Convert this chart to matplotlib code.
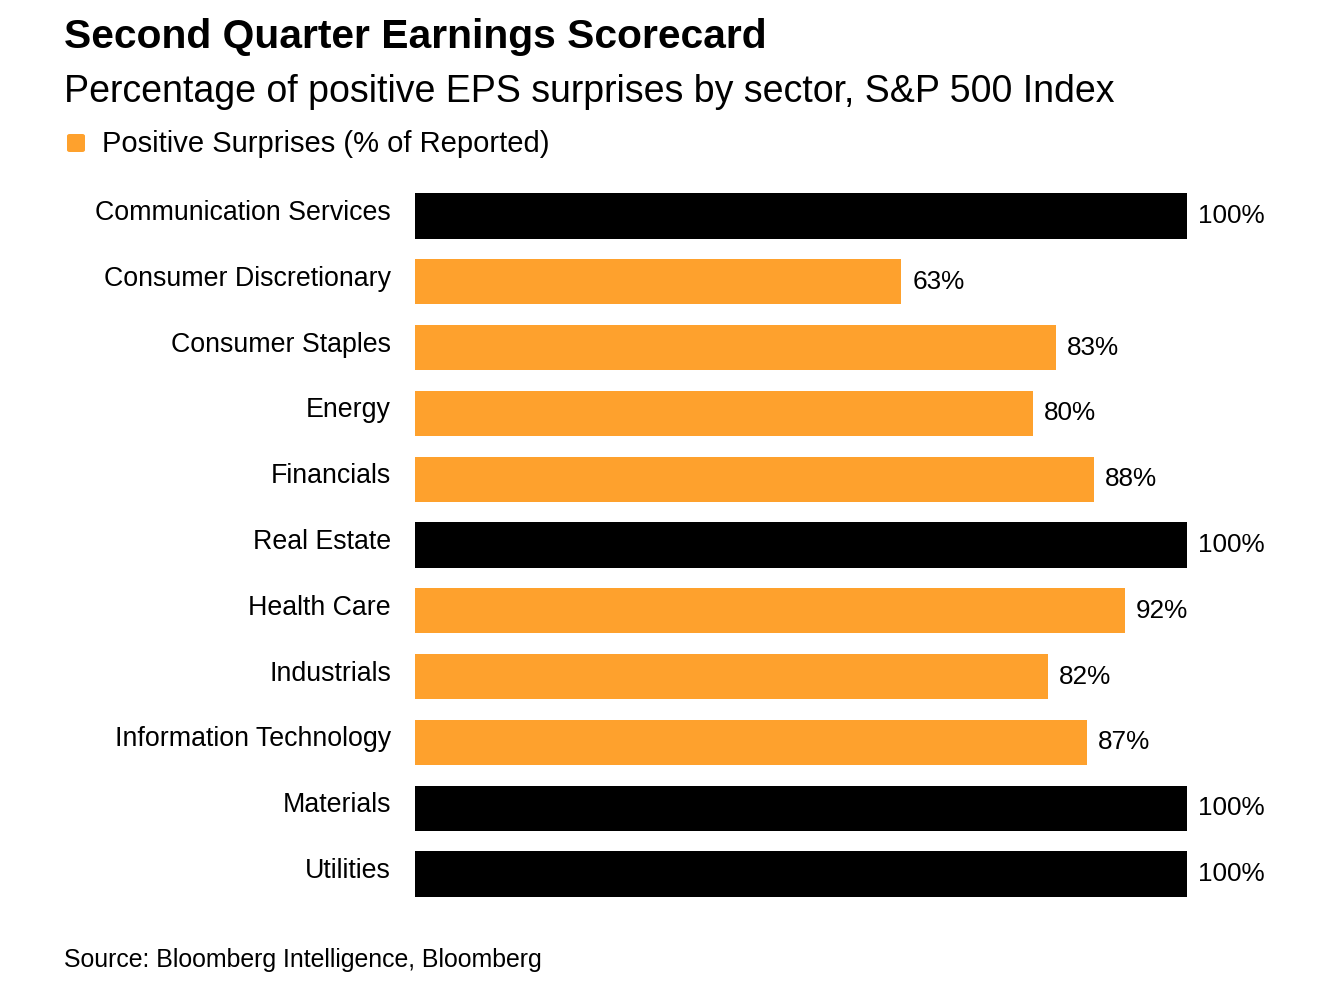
import matplotlib
matplotlib.use("Agg")
import matplotlib.pyplot as plt
from matplotlib.patches import FancyBboxPatch

categories = ["Communication Services", "Consumer Discretionary", "Consumer Staples",
              "Energy", "Financials", "Real Estate", "Health Care", "Industrials",
              "Information Technology", "Materials", "Utilities"]
values = [100, 63, 83, 80, 88, 100, 92, 82, 87, 100, 100]
value_labels = ["100%", "63%", "83%", "80%", "88%", "100%", "92%", "82%", "87%", "100%", "100%"]

ORANGE = "#FEA12D"
BLACK = "#000000"
FONT = "Liberation Sans"

W, H = 1332, 988
fig = plt.figure(figsize=(W / 100, H / 100), dpi=100)
fig.patch.set_facecolor("white")

def fx(px):
    return px / W

def fy(py):
    return 1 - py / H

# bars
top_c, bot_c = 216, 874
step = (bot_c - top_c) / (len(categories) - 1)
ax_top = top_c - step / 2
ax_bot = bot_c + step / 2
ax = fig.add_axes([fx(415), fy(ax_bot), fx(1187) - fx(415), (ax_bot - ax_top) / H])
ax.set_xlim(0, 100)
ax.set_ylim(len(categories) - 0.5, -0.5)
colors = [BLACK if v >= 100 else ORANGE for v in values]
ypos = list(range(len(categories)))
ax.barh(ypos, values, height=0.685, color=colors, edgecolor="none")
ax.axis("off")

renderer = fig.canvas.get_renderer()

def fit_text(x, y, s, width_px, ha="left", va="center", weight="normal", color="black"):
    t = fig.text(x, y, s, fontsize=20, ha=ha, va=va, fontweight=weight, color=color,
                 family=FONT, transform=fig.transFigure)
    w = t.get_window_extent(renderer=renderer).width
    t.set_fontsize(20 * width_px / w)
    return t

label_offset = 11 * 100 / (1187 - 415)
for i, (cat, v, lab) in enumerate(zip(categories, values, value_labels)):
    yc = top_c + i * step
    fig.text(fx(391), fy(yc - 3), cat, ha="right", va="center", fontsize=19.3,
             family=FONT, color="black")
    ax.text(v + label_offset, i, lab, ha="left", va="center", fontsize=18.8,
            family=FONT, color="black")

fit_text(fx(64), fy(37), "Second Quarter Earnings Scorecard", 702, weight="bold")
fit_text(fx(64), fy(92), "Percentage of positive EPS surprises by sector, S&P 500 Index", 1049)
fit_text(fx(102), fy(144), "Positive Surprises (% of Reported)", 446)
fit_text(fx(64), fy(960), "Source: Bloomberg Intelligence, Bloomberg", 480)

# legend swatch
sw = FancyBboxPatch((fx(67), fy(152)), fx(18), 18 / H,
                    boxstyle="round,pad=0,rounding_size=0.002",
                    transform=fig.transFigure, facecolor=ORANGE, edgecolor="none")
fig.patches.append(sw)

fig.savefig("out.png", dpi=100, facecolor="white")
